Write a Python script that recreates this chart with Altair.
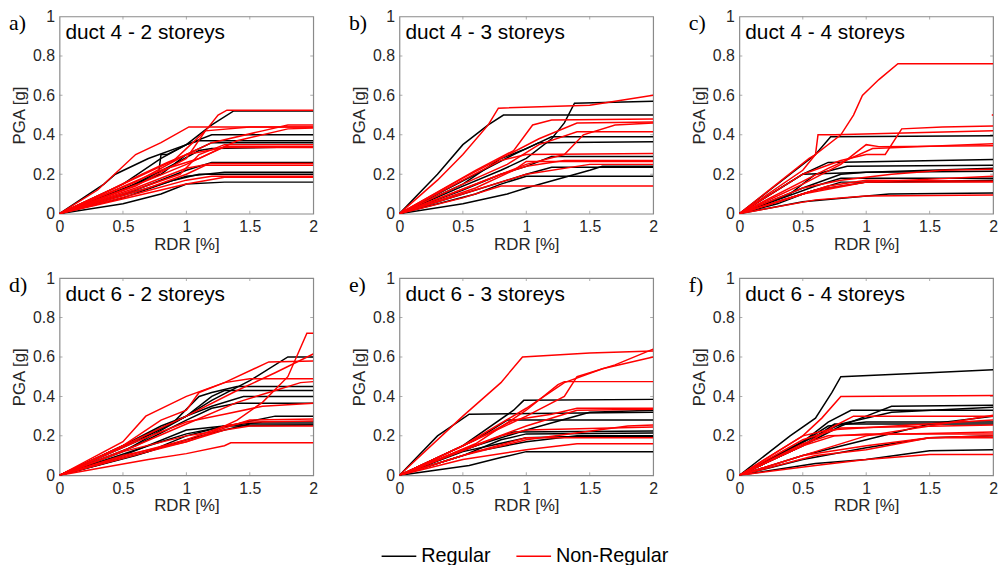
import altair as alt
import pandas as pd

SANS = "Liberation Sans"
SERIF = "Liberation Serif"
FRAME = "#8a8a8a"

X_TICKS = [0, 0.5, 1, 1.5, 2]
Y_TICKS = [0, 0.2, 0.4, 0.6, 0.8, 1]
TYPES = ["Regular", "Non-Regular"]
COLORS = ["#000000", "#ff0000"]
TITLES = ["duct 4 - 2 storeys", "duct 4 - 3 storeys", "duct 4 - 4 storeys",
          "duct 6 - 2 storeys", "duct 6 - 3 storeys", "duct 6 - 4 storeys"]
TAGS = ["a)", "b)", "c)", "d)", "e)", "f)"]

# ---- panel a: duct 4 - 2 storeys ----
A_REG = [
    [(0, 0), (0.5, 0.15), (0.8, 0.28), (1.0, 0.35), (1.2, 0.45), (1.37, 0.52), (2, 0.52)],
    [(0, 0), (0.35, 0.15), (0.44, 0.2), (0.7, 0.28), (1.0, 0.35), (1.1, 0.37), (2, 0.37)],
    [(0, 0), (0.6, 0.15), (0.78, 0.2), (0.8, 0.3), (0.85, 0.3), (1.0, 0.35), (1.2, 0.4), (2, 0.40)],
    [(0, 0), (0.5, 0.12), (0.9, 0.25), (1.1, 0.32), (1.2, 0.33), (2, 0.34)],
    [(0, 0), (0.6, 0.12), (1.0, 0.22), (1.2, 0.26), (2, 0.26)],
    [(0, 0), (0.5, 0.08), (0.9, 0.17), (1.1, 0.2), (2, 0.2)],
    [(0, 0), (0.5, 0.05), (0.8, 0.1), (1.0, 0.15), (1.3, 0.16), (2, 0.16)],
    [(0, 0), (0.7, 0.13), (1.0, 0.19), (1.3, 0.21), (2, 0.21)],
    [(0, 0), (0.8, 0.2), (1.0, 0.3), (1.2, 0.36), (2, 0.36)],
]
A_NON = [
    [(0, 0), (0.3, 0.12), (0.6, 0.3), (0.8, 0.36), (1.02, 0.44), (1.3, 0.44), (2, 0.44)],
    [(0, 0), (0.5, 0.15), (0.9, 0.27), (1.0, 0.33), (1.15, 0.42), (1.25, 0.5), (1.32, 0.525), (2, 0.525)],
    [(0, 0), (0.6, 0.16), (1.0, 0.3), (1.2, 0.36), (1.6, 0.42), (1.8, 0.45), (2, 0.45)],
    [(0, 0), (0.8, 0.22), (1.1, 0.28), (1.4, 0.37), (1.8, 0.43), (2, 0.435)],
    [(0, 0), (0.6, 0.14), (1.0, 0.28), (1.15, 0.42), (1.5, 0.44), (2, 0.44)],
    [(0, 0), (0.7, 0.17), (1.0, 0.25), (1.3, 0.34), (2, 0.34)],
    [(0, 0), (0.5, 0.1), (0.95, 0.2), (1.1, 0.3), (1.3, 0.35), (2, 0.35)],
    [(0, 0), (0.6, 0.13), (1.0, 0.23), (1.2, 0.255), (2, 0.255)],
    [(0, 0), (0.7, 0.13), (1.0, 0.2), (1.15, 0.245), (2, 0.245)],
    [(0, 0), (0.6, 0.1), (1.0, 0.17), (1.2, 0.19), (2, 0.19)],
    [(0, 0), (0.8, 0.12), (1.0, 0.15), (1.3, 0.185), (2, 0.185)],
    [(0, 0), (0.4, 0.12), (0.65, 0.2), (0.85, 0.26), (1.0, 0.3), (1.3, 0.335), (2, 0.335)],
]

# ---- panel b: duct 4 - 3 storeys ----
B_REG = [
    [(0, 0), (0.3, 0.2), (0.5, 0.35), (0.7, 0.45), (0.82, 0.5), (2, 0.5)],
    [(0, 0), (0.5, 0.14), (0.8, 0.22), (1.0, 0.28), (1.2, 0.38), (1.3, 0.46), (1.38, 0.56), (2, 0.57)],
    [(0, 0), (0.5, 0.15), (0.8, 0.28), (1.0, 0.33), (1.2, 0.39), (2, 0.39)],
    [(0, 0), (0.6, 0.2), (0.9, 0.3), (1.1, 0.36), (2, 0.365)],
    [(0, 0), (0.5, 0.12), (0.8, 0.2), (1.0, 0.24), (1.2, 0.29), (2, 0.29)],
    [(0, 0), (0.5, 0.1), (0.8, 0.16), (1.0, 0.2), (1.2, 0.235), (2, 0.235)],
    [(0, 0), (0.6, 0.1), (0.8, 0.15), (1.0, 0.19), (2, 0.19)],
    [(0, 0), (0.5, 0.05), (0.85, 0.1), (1.0, 0.13), (1.5, 0.22), (1.6, 0.24), (2, 0.24)],
]
B_NON = [
    [(0, 0), (0.3, 0.17), (0.5, 0.3), (0.7, 0.45), (0.78, 0.535), (1.5, 0.55), (2, 0.60)],
    [(0, 0), (0.6, 0.22), (0.9, 0.32), (1.05, 0.45), (1.2, 0.475), (2, 0.48)],
    [(0, 0), (0.5, 0.18), (0.8, 0.28), (1.1, 0.38), (1.4, 0.46), (2, 0.465)],
    [(0, 0), (0.6, 0.15), (1.0, 0.25), (1.3, 0.3), (1.45, 0.4), (1.7, 0.45), (2, 0.46)],
    [(0, 0), (0.5, 0.15), (0.85, 0.25), (1.1, 0.35), (1.4, 0.415), (2, 0.415)],
    [(0, 0), (0.5, 0.17), (0.8, 0.27), (1.0, 0.3), (2, 0.305)],
    [(0, 0), (0.6, 0.13), (0.9, 0.22), (1.0, 0.265), (2, 0.265)],
    [(0, 0), (0.6, 0.12), (1.0, 0.2), (1.5, 0.25), (2, 0.25)],
    [(0, 0), (0.5, 0.08), (0.8, 0.14), (2, 0.14)],
    [(0, 0), (0.4, 0.1), (0.8, 0.2), (1.0, 0.24), (1.3, 0.27), (2, 0.27)],
]

# ---- panel c: duct 4 - 4 storeys ----
C_REG = [
    [(0, 0), (0.5, 0.25), (0.6, 0.3), (0.72, 0.39), (2, 0.395)],
    [(0, 0), (0.5, 0.2), (0.7, 0.26), (2, 0.275)],
    [(0, 0), (0.5, 0.2), (1.0, 0.21), (2, 0.23)],
    [(0, 0), (0.4, 0.1), (0.6, 0.2), (0.85, 0.24), (2, 0.245)],
    [(0, 0), (0.5, 0.13), (0.8, 0.2), (1.0, 0.21), (2, 0.215)],
    [(0, 0), (0.6, 0.14), (0.8, 0.18), (2, 0.18)],
    [(0, 0), (0.6, 0.12), (1.0, 0.16), (2, 0.17)],
    [(0, 0), (0.3, 0.05), (0.5, 0.1), (0.8, 0.16), (1.2, 0.16), (2, 0.165)],
    [(0, 0), (0.5, 0.06), (1.18, 0.1), (2, 0.105)],
]
C_NON = [
    [(0, 0), (0.5, 0.22), (0.6, 0.3), (0.8, 0.4), (0.9, 0.5), (0.97, 0.6), (1.1, 0.68), (1.25, 0.76), (2, 0.76)],
    [(0, 0), (0.55, 0.28), (0.6, 0.3), (0.62, 0.4), (0.75, 0.4), (2, 0.42)],
    [(0, 0), (0.5, 0.2), (0.8, 0.27), (1.0, 0.3), (1.15, 0.3), (1.28, 0.43), (1.6, 0.44), (2, 0.445)],
    [(0, 0), (0.5, 0.15), (0.8, 0.25), (1.0, 0.35), (1.1, 0.34), (2, 0.345)],
    [(0, 0), (0.7, 0.23), (1.05, 0.33), (2, 0.355)],
    [(0, 0), (0.5, 0.13), (0.8, 0.17), (1.2, 0.2), (1.6, 0.22), (2, 0.225)],
    [(0, 0), (0.6, 0.12), (1.0, 0.16), (2, 0.19)],
    [(0, 0), (0.7, 0.14), (1.0, 0.17), (2, 0.165)],
    [(0, 0), (0.5, 0.1), (1.0, 0.16), (2, 0.16)],
    [(0, 0), (0.6, 0.07), (1.0, 0.09), (2, 0.095)],
    [(1.99, 0.5), (2, 0.5)],
]

# ---- panel d: duct 6 - 2 storeys ----
D_REG = [
    [(0, 0), (0.5, 0.15), (0.8, 0.25), (1.0, 0.3), (1.2, 0.38), (1.5, 0.48), (1.8, 0.6), (2, 0.6)],
    [(0, 0), (0.5, 0.15), (0.9, 0.27), (1.1, 0.4), (1.2, 0.42), (1.4, 0.45), (2, 0.45)],
    [(0, 0), (0.6, 0.17), (1.0, 0.3), (1.2, 0.4), (1.3, 0.43), (2, 0.43)],
    [(0, 0), (0.5, 0.12), (1.0, 0.3), (1.2, 0.35), (1.45, 0.4), (2, 0.40)],
    [(0, 0), (0.6, 0.15), (1.0, 0.28), (1.2, 0.34), (1.4, 0.365), (2, 0.365)],
    [(0, 0), (0.7, 0.15), (1.0, 0.21), (1.4, 0.26), (1.7, 0.3), (2, 0.3)],
    [(0, 0), (0.7, 0.12), (1.0, 0.2), (1.3, 0.25), (1.6, 0.27), (2, 0.27)],
    [(0, 0), (0.6, 0.1), (1.0, 0.18), (1.3, 0.23), (1.5, 0.26), (2, 0.26)],
    [(0, 0), (0.5, 0.1), (1.0, 0.23), (1.3, 0.25), (2, 0.255)],
]
D_NON = [
    [(0, 0), (0.5, 0.17), (0.68, 0.3), (1.0, 0.4), (1.3, 0.47), (1.65, 0.575), (2, 0.58)],
    [(0, 0), (0.5, 0.15), (1.0, 0.3), (1.4, 0.43), (1.7, 0.52), (2, 0.615)],
    [(0, 0), (0.5, 0.12), (1.0, 0.2), (1.2, 0.22), (1.4, 0.28), (1.6, 0.37), (1.8, 0.5), (1.95, 0.72), (2, 0.72)],
    [(0, 0), (0.5, 0.15), (0.8, 0.28), (1.0, 0.33), (1.1, 0.42), (1.3, 0.47), (1.5, 0.49), (2, 0.49)],
    [(0, 0), (0.6, 0.15), (1.0, 0.26), (1.4, 0.37), (1.7, 0.43), (1.9, 0.47), (2, 0.475)],
    [(0, 0), (0.6, 0.17), (1.0, 0.27), (1.3, 0.31), (1.6, 0.35), (2, 0.365)],
    [(0, 0), (0.7, 0.12), (1.0, 0.17), (1.3, 0.24), (1.5, 0.28), (2, 0.285)],
    [(0, 0), (0.7, 0.13), (1.0, 0.18), (1.3, 0.25), (1.5, 0.27), (2, 0.275)],
    [(0, 0), (0.5, 0.1), (1.0, 0.17), (1.3, 0.23), (1.5, 0.25), (2, 0.25)],
    [(0, 0), (0.7, 0.08), (1.0, 0.11), (1.3, 0.15), (1.35, 0.165), (2, 0.165)],
]

# ---- panel e: duct 6 - 3 storeys ----
E_REG = [
    [(0, 0), (0.3, 0.2), (0.55, 0.31), (2, 0.32)],
    [(0, 0), (0.5, 0.15), (0.9, 0.33), (0.98, 0.38), (2, 0.385)],
    [(0, 0), (0.6, 0.18), (0.85, 0.28), (2, 0.28)],
    [(0, 0), (0.5, 0.13), (1.0, 0.23), (1.5, 0.32), (2, 0.33)],
    [(0, 0), (0.6, 0.15), (0.8, 0.2), (0.9, 0.22), (2, 0.225)],
    [(0, 0), (0.5, 0.1), (0.8, 0.18), (1.0, 0.21), (2, 0.215)],
    [(0, 0), (0.6, 0.12), (1.0, 0.17), (1.4, 0.2), (2, 0.2)],
    [(0, 0), (0.55, 0.05), (0.8, 0.09), (1.0, 0.12), (2, 0.12)],
    [(0, 0), (0.5, 0.12), (1.0, 0.19), (1.3, 0.195), (2, 0.195)],
]
E_NON = [
    [(0, 0), (0.5, 0.3), (0.8, 0.47), (0.97, 0.6), (1.5, 0.62), (2, 0.63)],
    [(0, 0), (0.6, 0.18), (1.0, 0.3), (1.3, 0.4), (1.4, 0.5), (1.7, 0.56), (2, 0.64)],
    [(0, 0), (0.5, 0.15), (1.0, 0.34), (1.3, 0.47), (1.6, 0.54), (2, 0.6)],
    [(0, 0), (0.6, 0.16), (1.0, 0.33), (1.25, 0.46), (1.3, 0.475), (2, 0.475)],
    [(0, 0), (0.6, 0.18), (0.9, 0.28), (1.2, 0.31), (1.4, 0.34), (2, 0.34)],
    [(0, 0), (0.5, 0.13), (1.0, 0.25), (1.4, 0.33), (2, 0.335)],
    [(0, 0), (0.6, 0.15), (0.8, 0.2), (1.0, 0.23), (2, 0.245)],
    [(0, 0), (0.5, 0.1), (1.0, 0.18), (1.8, 0.25), (2, 0.255)],
    [(0, 0), (0.6, 0.12), (1.0, 0.19), (2, 0.19)],
    [(0, 0), (0.5, 0.08), (1.0, 0.13), (1.4, 0.16), (2, 0.16)],
]

# ---- panel f: duct 6 - 4 storeys ----
F_REG = [
    [(0, 0), (0.4, 0.2), (0.6, 0.29), (0.73, 0.42), (0.8, 0.5), (1.5, 0.52), (2, 0.535)],
    [(0, 0), (0.5, 0.17), (0.7, 0.27), (0.88, 0.33), (2, 0.33)],
    [(0, 0), (0.5, 0.15), (0.8, 0.25), (1.0, 0.3), (1.2, 0.35), (2, 0.355)],
    [(0, 0), (0.6, 0.2), (0.8, 0.26), (1.2, 0.32), (2, 0.345)],
    [(0, 0), (0.5, 0.17), (0.7, 0.25), (1.0, 0.27), (2, 0.27)],
    [(0, 0), (0.5, 0.15), (0.75, 0.26), (2, 0.26)],
    [(0, 0), (0.5, 0.1), (1.0, 0.18), (1.5, 0.26), (2, 0.3)],
    [(0, 0), (0.5, 0.08), (1.0, 0.14), (1.5, 0.19), (2, 0.2)],
    [(0, 0), (0.6, 0.06), (1.0, 0.08), (1.5, 0.125), (2, 0.13)],
]
F_NON = [
    [(0, 0), (0.5, 0.2), (0.65, 0.29), (0.8, 0.4), (2, 0.405)],
    [(0, 0), (0.5, 0.15), (0.75, 0.25), (0.9, 0.3), (2, 0.3)],
    [(0, 0), (0.5, 0.2), (0.7, 0.23), (2, 0.28)],
    [(0, 0), (0.5, 0.18), (0.8, 0.24), (2, 0.255)],
    [(0, 0), (0.5, 0.16), (0.7, 0.2), (2, 0.22)],
    [(0, 0), (0.5, 0.15), (0.75, 0.2), (1.0, 0.21), (2, 0.21)],
    [(0, 0), (0.5, 0.1), (1.0, 0.15), (1.5, 0.19), (2, 0.19)],
    [(0, 0), (0.6, 0.1), (1.0, 0.13), (1.5, 0.19), (2, 0.2)],
    [(0, 0), (0.6, 0.05), (1.0, 0.08), (1.5, 0.105), (2, 0.105)],
    [(0, 0), (0.6, 0.12), (1.0, 0.2), (1.5, 0.25), (2, 0.305)],
]

PANELS = [(A_REG, A_NON), (B_REG, B_NON), (C_REG, C_NON),
          (D_REG, D_NON), (E_REG, E_NON), (F_REG, F_NON)]

W, H = 256, 199


def build_df(reg, non):
    rows = []
    for t, curves in ((TYPES[0], reg), (TYPES[1], non)):
        for k, c in enumerate(curves):
            for i, (x, y) in enumerate(c):
                rows.append({"curve": f"{t}{k}", "type": t, "i": i, "x": x, "y": y})
    return pd.DataFrame(rows)


def xenc():
    return alt.X("x:Q", title="RDR [%]",
                 scale=alt.Scale(domain=[0, 2], nice=False, zero=False),
                 axis=alt.Axis(values=X_TICKS, format="~g"))


def yenc():
    return alt.Y("y:Q", title="PGA [g]",
                 scale=alt.Scale(domain=[0, 1], nice=False, zero=False),
                 axis=alt.Axis(values=Y_TICKS, format="~g"))


ytick_df = pd.DataFrame([{"x": xv, "y": v} for v in Y_TICKS[1:-1] for xv in (0, 2)])
xtick_df = pd.DataFrame([{"x": v, "y": yv} for v in X_TICKS[1:-1] for yv in (0, 1)])

legend = alt.Legend(title=None, orient="none", legendX=324, legendY=526,
                    direction="horizontal", symbolType="stroke", symbolSize=1225,
                    symbolStrokeWidth=1.5, labelFontSize=20, labelFont=SANS,
                    labelColor="#000000", columnPadding=22, labelOffset=4)


def panel(idx):
    reg, non = PANELS[idx]
    df = build_df(reg, non)
    lines = alt.Chart(df).mark_line(strokeWidth=1.5, clip=True).encode(
        x=xenc(), y=yenc(),
        color=alt.Color("type:N", scale=alt.Scale(domain=TYPES, range=COLORS), legend=legend),
        detail="curve:N",
        order=alt.Order("i:Q"),
    )
    yt = alt.Chart(ytick_df).mark_tick(orient="horizontal", size=6, thickness=1,
                                       color=FRAME, clip=True).encode(x=xenc(), y=yenc())
    xt = alt.Chart(xtick_df).mark_tick(orient="vertical", size=6, thickness=1,
                                       color=FRAME, clip=True).encode(x=xenc(), y=yenc())
    title = alt.Chart(pd.DataFrame({"t": [TITLES[idx]]})).mark_text(
        align="left", baseline="middle", fontSize=21, font=SANS, color="#000000"
    ).encode(x=alt.value(6), y=alt.value(17), text="t:N")
    tag = alt.Chart(pd.DataFrame({"t": [TAGS[idx]]})).mark_text(
        align="left", baseline="alphabetic", fontSize=22, font=SERIF, color="#000000"
    ).encode(x=alt.value(-51), y=alt.value(14), text="t:N")
    return alt.layer(yt, xt, lines, title, tag).properties(width=W, height=H)


row1 = alt.hconcat(panel(0), panel(1), panel(2), spacing=29)
row2 = alt.hconcat(panel(3), panel(4), panel(5), spacing=29)

chart = alt.vconcat(row1, row2, spacing=16).resolve_scale(color="shared").properties(
    padding={"left": 0, "top": -3, "right": 0, "bottom": 0}
).configure_view(stroke=FRAME, strokeWidth=1.2).configure_axis(
    domain=False, ticks=False, tickSize=0, grid=False,
    labelFontSize=16, labelFont=SANS, labelColor="#262626",
    titleFontSize=17, titleFont=SANS, titleFontWeight="normal", titleColor="#262626",
    labelFlush=False, labelOverlap=False, labelPadding=5,
).configure_axisY(titlePadding=4).configure_axisX(titlePadding=2)

chart.save("out.html", embed_options={"renderer": "svg", "actions": False})
